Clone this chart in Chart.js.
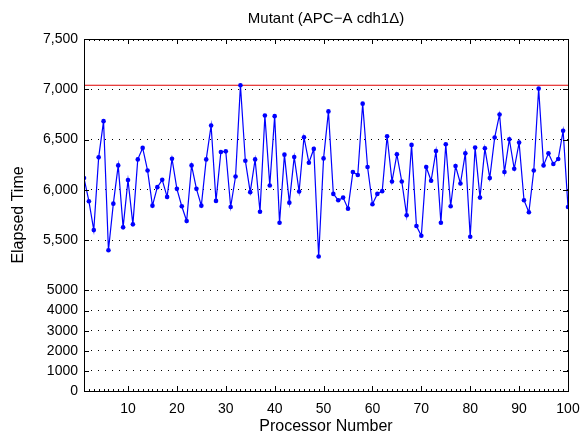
<!DOCTYPE html>
<html>
<head>
<meta charset="utf-8">
<script src="https://cdn.jsdelivr.net/npm/chart.js@4/dist/chart.umd.min.js"></script>
<style>
  html, body { margin: 0; padding: 0; background: #fff; }
  #wrap { width: 584px; height: 440px; position: relative; }
</style>
</head>
<body>
<div id="wrap"><canvas id="c" width="584" height="440"></canvas></div>
<script>
// ---------- data ----------
const processors = Array.from({length: 100}, (_, i) => i + 1);
const elapsed = [
  6117, 5887, 5600, 6323, 6683, 5400, 5863, 6243, 5627, 6097,
  5657, 6303, 6417, 6193, 5843, 6027, 6100, 5930, 6310, 6010,
  5837, 5690, 6243, 6010, 5843, 6303, 6640, 5890, 6377, 6383,
  5830, 6133, 7040, 6290, 5977, 6303, 5783, 6740, 6043, 6733,
  5673, 6350, 5873, 6327, 5983, 6523, 6270, 6407, 5337, 6313,
  6780, 5960, 5897, 5923, 5813, 6177, 6147, 6857, 6227, 5857,
  5960, 5987, 6533, 6083, 6353, 6083, 5747, 6447, 5640, 5543,
  6227, 6090, 6387, 5673, 6453, 5837, 6237, 6063, 6363, 5533,
  6420, 5923, 6413, 6117, 6520, 6750, 6177, 6503, 6210, 6470,
  5897, 5777, 6193, 7007, 6243, 6363, 6257, 6307, 6587, 5830
];
const maxLineY = [7040, 7040];
const maxLineX = [1, 100];
const xTickValues = [10, 20, 30, 40, 50, 60, 70, 80, 90, 100];
const yTickValues = [0, 1000, 2000, 3000, 4000, 5000, 5500, 6000, 6500, 7000, 7500];
const yTickLabels = ['0', '1000', '2000', '3000', '4000', '5000', '5,500', '6,000', '6,500', '7,000', '7,500'];
const titleText = 'Mutant (APC\u2212A cdh1\u0394)';
const xTitle = 'Processor Number';
const yTitle = 'Elapsed Time';

// ---------- broken (piecewise-linear) y scale ----------
const BREAK_AT = 5000;
const LOW_COMPRESS = 5; // below the break, 5 units take the room of 1 unit above
function toT(v) { return v <= BREAK_AT ? v / LOW_COMPRESS : BREAK_AT / LOW_COMPRESS + (v - BREAK_AT); }
function fromT(t) { const b = BREAK_AT / LOW_COMPRESS; return t <= b ? t * LOW_COMPRESS : BREAK_AT + (t - b); }

class BrokenLinearScale extends Chart.LinearScale {
  getPixelForValue(value) {
    const t0 = toT(this.min), t1 = toT(this.max);
    return this.bottom - (toT(value) - t0) / (t1 - t0) * (this.bottom - this.top);
  }
  getValueForPixel(pixel) {
    const t0 = toT(this.min), t1 = toT(this.max);
    return fromT(t0 + (this.bottom - pixel) / (this.bottom - this.top) * (t1 - t0));
  }
}
BrokenLinearScale.id = 'brokenLinear';
BrokenLinearScale.defaults = Chart.LinearScale.defaults;
Chart.register(BrokenLinearScale);

const FONT = 'Liberation Sans, Arial, Helvetica, sans-serif';

// ---------- axes box + inward ticks ----------
const boxPlugin = {
  id: 'matlabBox',
  afterDraw(chart) {
    const {ctx, chartArea: a, scales} = chart;
    const xs = scales.x, ys = scales.y;
    ctx.save();
    ctx.strokeStyle = '#000';
    ctx.lineWidth = 1;
    ctx.beginPath();
    // minor x ticks
    for (let v = 1; v <= 100; v++) {
      const px = Math.round(xs.getPixelForValue(v)) + 0.5;
      ctx.moveTo(px, a.bottom); ctx.lineTo(px, a.bottom - 2);
      ctx.moveTo(px, a.top); ctx.lineTo(px, a.top + 2);
    }
    xs.ticks.forEach(t => {
      const px = Math.round(xs.getPixelForValue(t.value)) + 0.5;
      ctx.moveTo(px, a.bottom); ctx.lineTo(px, a.bottom - 5);
      ctx.moveTo(px, a.top); ctx.lineTo(px, a.top + 5);
    });
    ys.ticks.forEach(t => {
      const py = Math.round(ys.getPixelForValue(t.value)) + 0.5;
      ctx.moveTo(a.left, py); ctx.lineTo(a.left + 5, py);
      ctx.moveTo(a.right, py); ctx.lineTo(a.right - 5, py);
    });
    ctx.stroke();
    ctx.strokeRect(Math.round(a.left) + 0.5, Math.round(a.top) + 0.5,
                   Math.round(a.right - a.left), Math.round(a.bottom - a.top));
    ctx.restore();
  }
};

new Chart(document.getElementById('c'), {
  type: 'line',
  data: {
    datasets: [
      {
        label: 'max',
        data: maxLineX.map((x, i) => ({x, y: maxLineY[i]})),
        borderColor: '#e00000',
        borderWidth: 1,
        pointRadius: 0,
        fill: false,
        order: 2
      },
      {
        label: 'Elapsed Time',
        data: processors.map((p, i) => ({x: p, y: elapsed[i]})),
        borderColor: '#0000ff',
        backgroundColor: '#0000ff',
        borderWidth: 1.2,
        pointRadius: 2.3,
        pointBorderWidth: 0,
        pointBackgroundColor: '#0000ff',
        tension: 0,
        fill: false,
        order: 1
      }
    ]
  },
  options: {
    responsive: false,
    animation: false,
    events: [],
    layout: { padding: { left: 0, right: 16, top: 0, bottom: 0 } },
    plugins: {
      legend: { display: false },
      tooltip: { enabled: false },
      title: {
        display: true,
        text: titleText,
        fullSize: false,
        color: '#000',
        font: { family: FONT, size: 15, weight: 'normal', lineHeight: 1.2 },
        padding: { top: 10, bottom: 11 }
      }
    },
    scales: {
      x: {
        type: 'linear',
        min: 1,
        max: 100,
        afterBuildTicks: s => { s.ticks = xTickValues.map(v => ({value: v})); },
        afterFit: s => { s.height = 49; s.paddingLeft = 0; s.paddingRight = 0; },
        grid: { display: false, drawTicks: false },
        border: { display: false },
        ticks: {
          color: '#000',
          font: { family: FONT, size: 14 },
          padding: 10,
          maxRotation: 0,
          autoSkip: false,
          callback: v => String(v)
        },
        title: {
          display: true,
          text: xTitle,
          color: '#000',
          font: { family: FONT, size: 16, lineHeight: 1.2 },
          padding: { top: 0, bottom: 4 }
        }
      },
      y: {
        type: 'brokenLinear',
        min: 0,
        max: 7500,
        afterBuildTicks: s => { s.ticks = yTickValues.map(v => ({value: v})); },
        afterFit: s => { s.width = 84; s.paddingTop = 0; s.paddingBottom = 0; },
        grid: { display: true, drawTicks: false, color: '#000', lineWidth: 1 },
        border: { display: false, dash: [1, 6] },
        ticks: {
          color: '#000',
          font: { family: FONT, size: 14 },
          padding: 6,
          autoSkip: false,
          callback: (v) => { const k = yTickValues.indexOf(v); return k >= 0 ? yTickLabels[k] : ''; }
        },
        title: {
          display: true,
          text: yTitle,
          color: '#000',
          font: { family: FONT, size: 16, lineHeight: 1.2 },
          padding: { top: 9, bottom: 0 }
        }
      }
    }
  },
  plugins: [boxPlugin]
});
</script>
</body>
</html>
